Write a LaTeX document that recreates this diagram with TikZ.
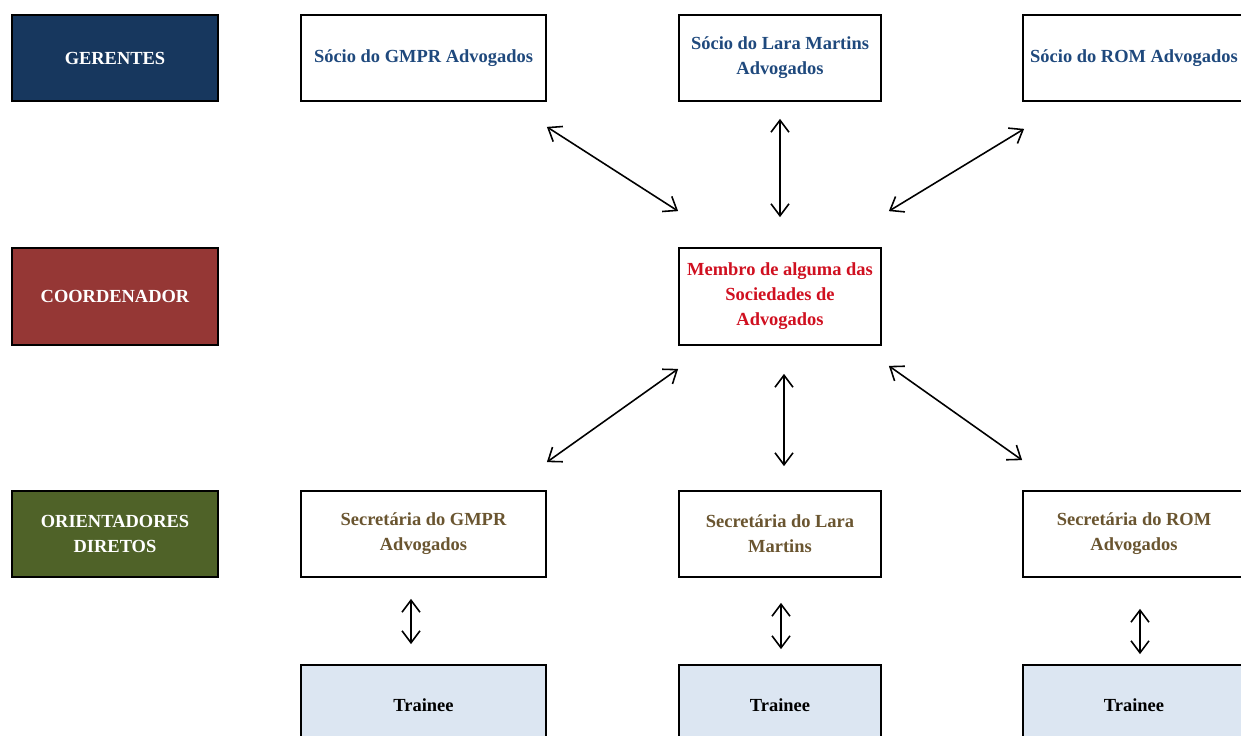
\documentclass[tikz,border=0pt]{standalone}
\usepackage{fontspec}
\setmainfont{Liberation Serif}
\usepackage{xcolor}
\usetikzlibrary{arrows.meta, positioning, calc}
\definecolor{gernavy}{HTML}{17375E}
\definecolor{coordred}{HTML}{953735}
\definecolor{oriegreen}{HTML}{4F6228}
\definecolor{trainblue}{HTML}{DCE6F2}
\definecolor{sociotext}{HTML}{1F497D}
\definecolor{secrtext}{HTML}{6A5530}
\definecolor{membrotext}{HTML}{D01020}
\tikzset{
    % Role label on the left
    rolebox/.style={
        rectangle,
        draw=black,
        line width=1pt,
        fill=#1,
        text=white,
        font=\bfseries\fontsize{10.5}{14.2}\selectfont,
        minimum width=4.12cm,
        minimum height=1.72cm,
        align=center
    },
    rolebox/.default=gernavy,
    % White outline box
    orgbox/.style={
        rectangle,
        draw=black,
        line width=1pt,
        fill=white,
        text=#1,
        font=\bfseries\fontsize{10.5}{14.2}\selectfont,
        minimum height=1.72cm,
        align=center,
        inner sep=2pt
    },
    orgbox/.default=black,
    % Trainee box
    trainbox/.style={
        orgbox,
        fill=trainblue,
        minimum height=1.6cm
    },
    % Double arrow
    linkarrow/.style={
        {Straight Barb[length=2.4mm,width=3.6mm]}-{Straight Barb[length=2.4mm,width=3.6mm]},
        line width=0.9pt,
        black
    }
}
\begin{document}
\begin{tikzpicture}

    \useasboundingbox (0,0) rectangle (24.82,-14.72);

    % Role column
    \node[rolebox=gernavy] (gerentes) at (2.3,-1.16) {GERENTES};
    \node[rolebox=coordred, minimum height=1.94cm] (coordenador) at (2.3,-5.93) {COORDENADOR};
    \node[rolebox=oriegreen] (orientadores) at (2.3,-10.68) {ORIENTADORES\\DIRETOS};

    % Socios
    \node[orgbox=sociotext, minimum width=4.9cm] (socioG) at (8.47,-1.16) {Sócio do GMPR Advogados};
    \node[orgbox=sociotext, minimum width=4.04cm] (socioL) at (15.6,-1.16) {Sócio do Lara Martins\\Advogados};
    \node[orgbox=sociotext, minimum width=4.44cm] (socioR) at (22.68,-1.16) {Sócio do ROM Advogados};

    % Coordenador
    \node[orgbox=membrotext, minimum width=4.04cm, minimum height=1.94cm] (membro) at (15.6,-5.93) {Membro de alguma das\\Sociedades de\\Advogados};

    % Secretarias
    \node[orgbox=secrtext, minimum width=4.9cm] (secrG) at (8.47,-10.68) {Secretária do GMPR\\Advogados};
    \node[orgbox=secrtext, minimum width=4.04cm] (secrL) at (15.6,-10.68) {Secretária do Lara\\Martins};
    \node[orgbox=secrtext, minimum width=4.44cm] (secrR) at (22.68,-10.68) {Secretária do ROM\\Advogados};

    % Trainees
    \node[trainbox, minimum width=4.9cm] (trainG) at (8.47,-14.1) {Trainee};
    \node[trainbox, minimum width=4.04cm] (trainL) at (15.6,-14.1) {Trainee};
    \node[trainbox, minimum width=4.44cm] (trainR) at (22.68,-14.1) {Trainee};

    % Arrow ends
    \coordinate (aG1) at ([shift={(0,-0.5)}]socioG.south east);
    \coordinate (aG2) at ([shift={(0,0.72)}]membro.north west);
    \coordinate (aL1) at ([shift={(0,-0.34)}]socioL.south);
    \coordinate (aL2) at ([shift={(0,0.6)}]membro.north);
    \coordinate (aR1) at ([shift={(0.04,-0.54)}]socioR.south west);
    \coordinate (aR2) at ([shift={(0.14,0.72)}]membro.north east);
    \coordinate (bG1) at ([shift={(0,-0.46)}]membro.south west);
    \coordinate (bG2) at ([shift={(0,0.56)}]secrG.north east);
    \coordinate (bL1) at ([shift={(0.08,-0.56)}]membro.south);
    \coordinate (bL2) at ([shift={(0.08,0.48)}]secrL.north);
    \coordinate (bR1) at ([shift={(0.14,-0.4)}]membro.south east);
    \coordinate (bR2) at ([shift={(0,0.6)}]secrR.north west);
    \coordinate (cG1) at ([shift={(-0.25,-0.42)}]secrG.south);
    \coordinate (cG2) at ([shift={(-0.25,0.4)}]trainG.north);
    \coordinate (cL1) at ([shift={(0.02,-0.5)}]secrL.south);
    \coordinate (cL2) at ([shift={(0.02,0.3)}]trainL.north);
    \coordinate (cR1) at ([shift={(0.12,-0.62)}]secrR.south);
    \coordinate (cR2) at ([shift={(0.12,0.2)}]trainR.north);

    % Arrows
    \draw[linkarrow] (aG1) -- (aG2);
    \draw[linkarrow] (aL1) -- (aL2);
    \draw[linkarrow] (aR1) -- (aR2);
    \draw[linkarrow] (bG1) -- (bG2);
    \draw[linkarrow] (bL1) -- (bL2);
    \draw[linkarrow] (bR1) -- (bR2);
    \draw[linkarrow] (cG1) -- (cG2);
    \draw[linkarrow] (cL1) -- (cL2);
    \draw[linkarrow] (cR1) -- (cR2);

\end{tikzpicture}
\end{document}
